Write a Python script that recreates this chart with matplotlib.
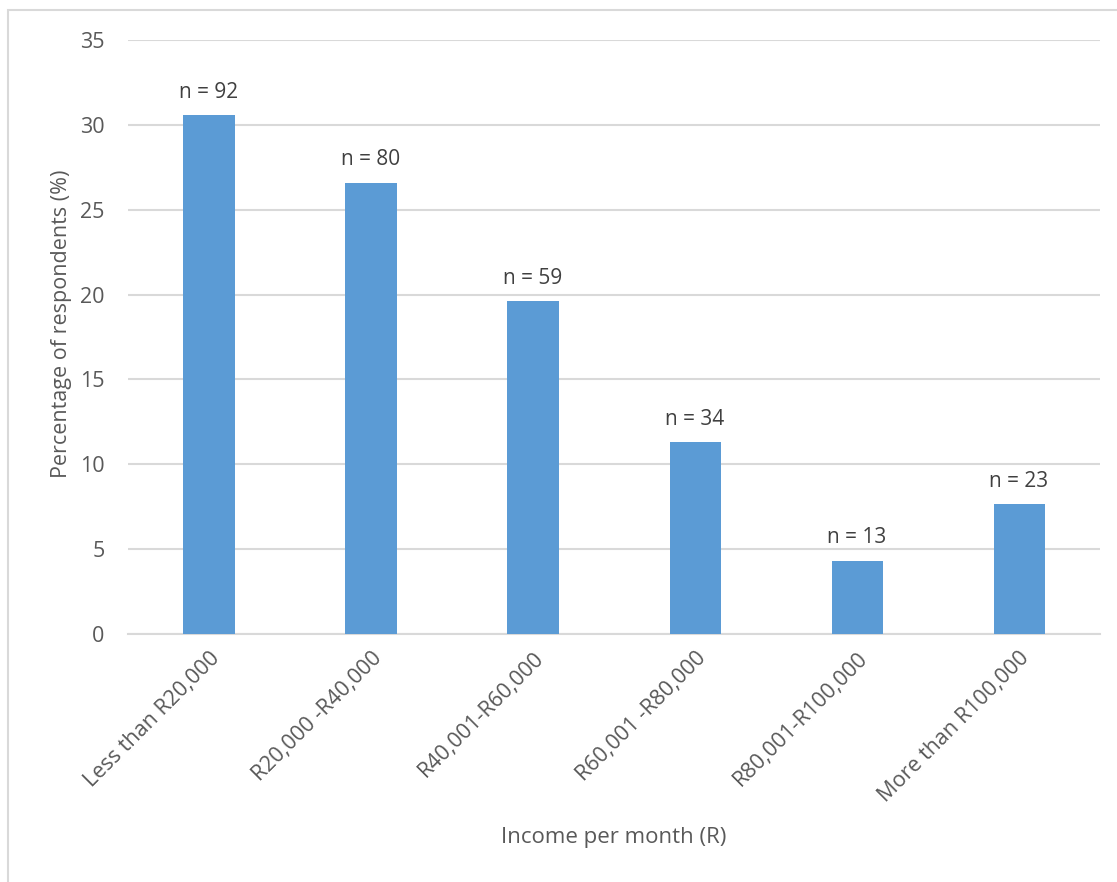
import matplotlib.pyplot as plt
from matplotlib.patches import Rectangle

categories = ['Less than R20,000', 'R20,000 -R40,000', 'R40,001-R60,000',
              'R60,001 -R80,000', 'R80,001-R100,000', 'More than R100,000']
counts = [92, 80, 59, 34, 13, 23]
percent = [30.56, 26.58, 19.60, 11.30, 4.32, 7.64]
yticks = [0, 5, 10, 15, 20, 25, 30, 35]

plt.rcParams['font.family'] = ['Open Sans', 'DejaVu Sans']
textcolor = '#595959'
gridcolor = '#d9d9d9'
barcolor = '#5b9bd5'

fig = plt.figure(figsize=(11.17, 8.82), dpi=100, facecolor='white')
ax = fig.add_axes([0.1146, 0.2812, 0.8702, 0.6734])

x = list(range(len(categories)))
ax.bar(x, percent, width=0.315, color=barcolor, zorder=3)

for xi, p, n in zip(x, percent, counts):
    ax.annotate('n = %d' % n, (xi, p), xytext=(0, 9), textcoords='offset points',
                ha='center', va='bottom', fontsize=15, color='#404040')

ax.set_xlim(-0.5, len(categories) - 0.5)
ax.set_ylim(0, 35)
ax.set_yticks(yticks)
ax.yaxis.grid(True, color=gridcolor, linewidth=1.5, zorder=0)
ax.set_xticks(x)
ax.set_xticklabels(categories, rotation=45, ha='right', rotation_mode='anchor')
ax.tick_params(axis='both', length=0, labelsize=15.5, labelcolor=textcolor)
ax.tick_params(axis='x', pad=10)
ax.tick_params(axis='y', pad=17)
for s in ['top', 'right', 'left']:
    ax.spines[s].set_visible(False)
ax.spines['bottom'].set_color(gridcolor)
ax.spines['bottom'].set_linewidth(1.5)

ax.set_ylabel('Percentage of respondents (%)', fontsize=15.5, color=textcolor)
ax.yaxis.set_label_coords(-0.058, 0.523)
fig.text(0.5497, 0.05, 'Income per month (R)', ha='center', va='center',
         fontsize=16, color=textcolor)

# thin frame around the chart area, like the Excel export
fig.patches.append(Rectangle((8 / 1117, -0.1), 2, 0.1 + 1 - 10 / 882,
                             transform=fig.transFigure, fill=False,
                             edgecolor=gridcolor, linewidth=1.5))

plt.savefig('out.png', dpi=100, facecolor='white')
